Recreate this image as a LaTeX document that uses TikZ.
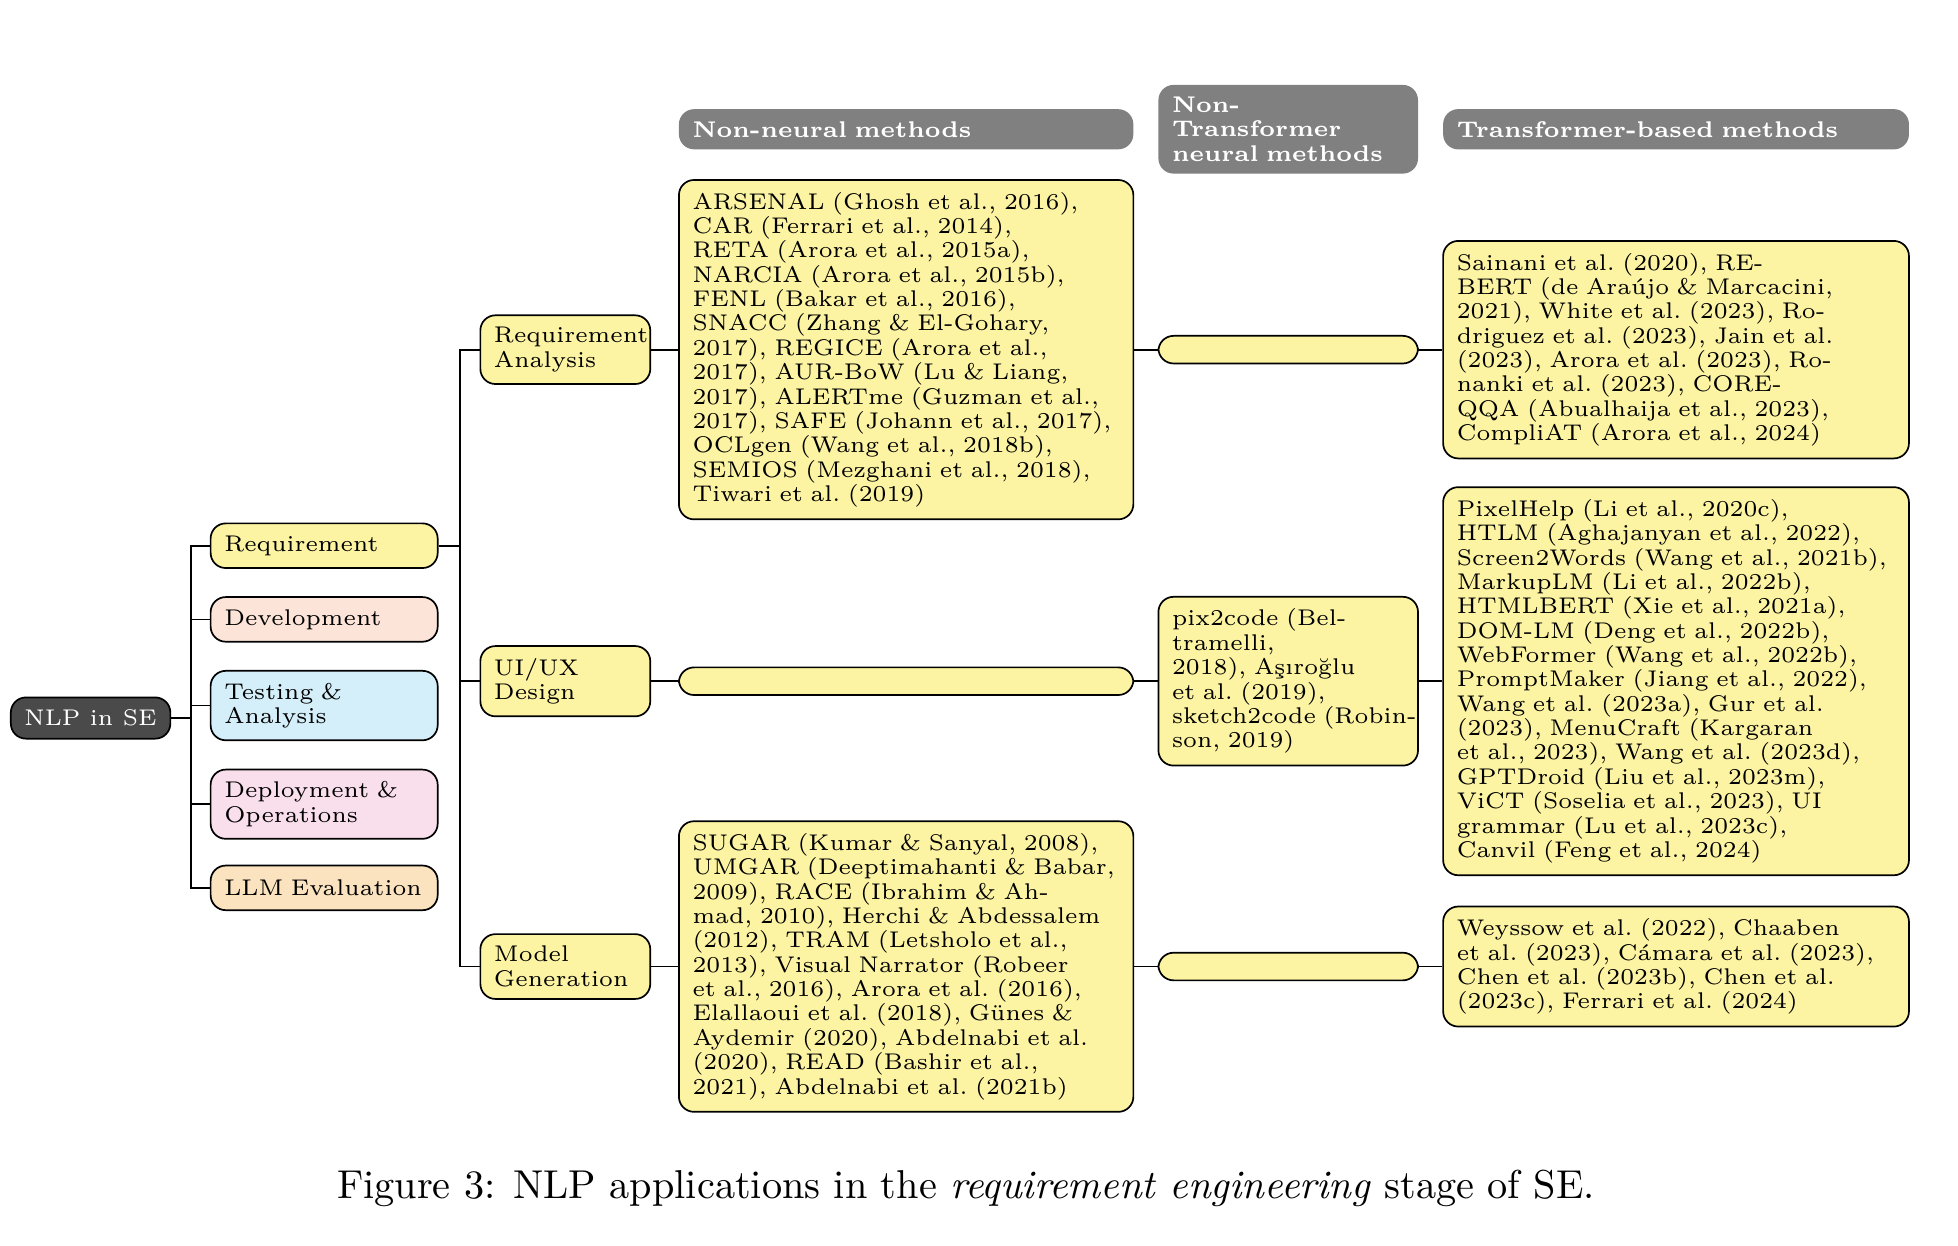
\documentclass[tikz,border=0pt]{standalone}
\usepackage{tikz}
\usetikzlibrary{positioning, calc}
\definecolor{leafyellow}{HTML}{FCF4A3}
\definecolor{devpeach}{HTML}{FCE5D8}
\definecolor{testblue}{HTML}{D4EFF9}
\definecolor{deploypink}{HTML}{F9DFEC}
\definecolor{evalorange}{HTML}{FAE3BE}
\definecolor{rootgray}{HTML}{4A4A4A}
\definecolor{headgray}{HTML}{808080}
\newcommand{\boxfont}{\fontsize{6}{6.44}\selectfont\frenchspacing}

\begin{document}
\begin{tikzpicture}[x=0.33pt, y=-0.33pt,
  box/.style={rectangle, draw=black, line width=0.45pt, rounded corners=4pt, anchor=west, align=left, font=\boxfont, inner xsep=3.6pt, inner ysep=3.2pt},
  root/.style={box, fill=rootgray, text=white, minimum width=41.9pt, minimum height=10.9pt, align=center},
  stage/.style={box, text width=52.8pt, minimum height=11.8pt},
  task/.style={box, fill=leafyellow, text width=37.7pt, minimum height=11.8pt},
  ref/.style={box, fill=leafyellow},
  head/.style={box, draw=none, fill=headgray, text=white, font=\boxfont\bfseries, minimum height=10.2pt},
  bar/.style={box, fill=leafyellow, minimum height=7.3pt, inner sep=0pt},
  link/.style={line width=0.45pt}]

\useasboundingbox (0,0) rectangle (1568,997.8);

% Root
\node[root] (nlp) at (8,575) {NLP in SE};

% Stages
\node[stage, fill=leafyellow] (sreq) at (168,437) {Requirement};
\node[stage, fill=devpeach] (sdev) at (168,496) {Development};
\node[stage, fill=testblue] (stest) at (168,565) {Testing \&\\Analysis};
\node[stage, fill=deploypink] (sdep) at (168,644) {Deployment \&\\Operations};
\node[stage, fill=evalorange] (seval) at (168,711) {LLM~Evaluation};

% Tasks
\node[task] (tra) at (384,280) {Requirement\\Analysis};
\node[task] (tui) at (384,545.5) {UI/UX\\Design};
\node[task] (tmg) at (384,774) {Model\\Generation};

% Column headers
\node[head, text width=112.9pt] (hnon) at (543,103.5) {Non-neural methods};
\node[head, text width=61.4pt] (hnt) at (927,103.5) {Non-\\Transformer\\neural~methods};
\node[head, text width=115.9pt] (htr) at (1155,103.5) {Transformer-based methods};

% Non-neural methods
\node[ref, text width=112.9pt] (ars) at (543,280) {
    ARSENAL (Ghosh et al., 2016),\\
    CAR (Ferrari et al., 2014),\\
    RETA (Arora et al., 2015a),\\
    NARCIA (Arora et al., 2015b),\\
    FENL (Bakar et al., 2016),\\
    SNACC (Zhang \& El-Gohary,\\
    2017), REGICE (Arora et al.,\\
    2017), AUR-BoW (Lu \& Liang,\\
    2017), ALERTme (Guzman et~al.,\\
    2017), SAFE (Johann et al.,~2017),\\
    OCLgen (Wang et al., 2018b),\\
    SEMIOS (Mezghani et al.,~2018),\\
    Tiwari et al. (2019)
};
\node[bar, minimum width=120.1pt] (bui) at (543,545.5) {};
\node[ref, text width=112.9pt] (sug) at (543,774) {
    SUGAR (Kumar \& Sanyal,~2008),\\
    UMGAR (Deeptimahanti \&~Babar,\\
    2009), RACE (Ibrahim \& Ah-\\
    mad, 2010), Herchi \& Abdessalem\\
    (2012), TRAM (Letsholo et al.,\\
    2013), Visual Narrator (Robeer\\
    et al., 2016), Arora et al. (2016),\\
    Elallaoui et al. (2018), Günes \&\\
    Aydemir (2020), Abdelnabi et al.\\
    (2020), READ (Bashir et al.,\\
    2021), Abdelnabi et al. (2021b)
};

% Non-Transformer neural methods
\node[bar, minimum width=68.6pt] (bra) at (927,280) {};
\node[ref, text width=61.4pt] (pix) at (927,545.5) {
    pix2code (Bel-\\
    tramelli,\\
    2018), Aşıroğlu\\
    et al. (2019),\\
    \mbox{sketch2code (Robin-}\\
    son, 2019)
};
\node[bar, minimum width=68.6pt] (bmg) at (927,774) {};

% Transformer-based methods
\node[ref, text width=115.9pt] (sai) at (1155,280) {
    Sainani et al. (2020), RE-\\
    BERT (de Araújo \& Marcacini,\\
    2021), White et al. (2023), Ro-\\
    driguez et al. (2023), Jain et al.\\
    (2023), Arora et al. (2023), Ro-\\
    nanki et al. (2023), CORE-\\
    QQA (Abualhaija et al., 2023),\\
    CompliAT (Arora et al., 2024)
};
\node[ref, text width=115.9pt] (pxh) at (1155,545.5) {
    PixelHelp (Li et al., 2020c),\\
    HTLM (Aghajanyan et al., 2022),\\
    Screen2Words (Wang et al.,~2021b),\\
    MarkupLM (Li et al., 2022b),\\
    HTMLBERT (Xie et al., 2021a),\\
    DOM-LM (Deng et al., 2022b),\\
    WebFormer (Wang et al., 2022b),\\
    PromptMaker (Jiang et al.,~2022),\\
    Wang et al. (2023a), Gur et al.\\
    (2023), MenuCraft (Kargaran\\
    et al., 2023), Wang et al. (2023d),\\
    GPTDroid (Liu et al., 2023m),\\
    ViCT (Soselia et al., 2023), UI\\
    grammar (Lu et al., 2023c),\\
    Canvil (Feng et al., 2024)
};
\node[ref, text width=115.9pt] (wey) at (1155,774) {
    Weyssow et al. (2022), Chaaben\\
    et al. (2023), Cámara et al.~(2023),\\
    Chen et al. (2023b), Chen et al.\\
    (2023c), Ferrari et al. (2024)
};

% Root to stages
\draw[link] (nlp.east) -- ++(16,0) |- (sreq.west);
\draw[link] (nlp.east) -- ++(16,0) |- (sdev.west);
\draw[link] (nlp.east) -- ++(16,0) |- (stest.west);
\draw[link] (nlp.east) -- ++(16,0) |- (sdep.west);
\draw[link] (nlp.east) -- ++(16,0) |- (seval.west);

% Requirement to tasks
\draw[link] (sreq.east) -- ++(17,0) |- (tra.west);
\draw[link] (sreq.east) -- ++(17,0) |- (tui.west);
\draw[link] (sreq.east) -- ++(17,0) |- (tmg.west);

% Tasks to methods
\draw[link] (tra.east) -- (ars.west);
\draw[link] (ars.east) -- (bra.west);
\draw[link] (bra.east) -- (sai.west);
\draw[link] (tui.east) -- (bui.west);
\draw[link] (bui.east) -- (pix.west);
\draw[link] (pix.east) -- (pxh.west);
\draw[link] (tmg.east) -- (sug.west);
\draw[link] (sug.east) -- (bmg.west);
\draw[link] (bmg.east) -- (wey.west);

% Caption
\node[font=\fontsize{10.65}{12}\selectfont] (cap) at (773.5,952) {Figure 3: NLP applications in the \textit{requirement engineering} stage of SE.};

\end{tikzpicture}
\end{document}
